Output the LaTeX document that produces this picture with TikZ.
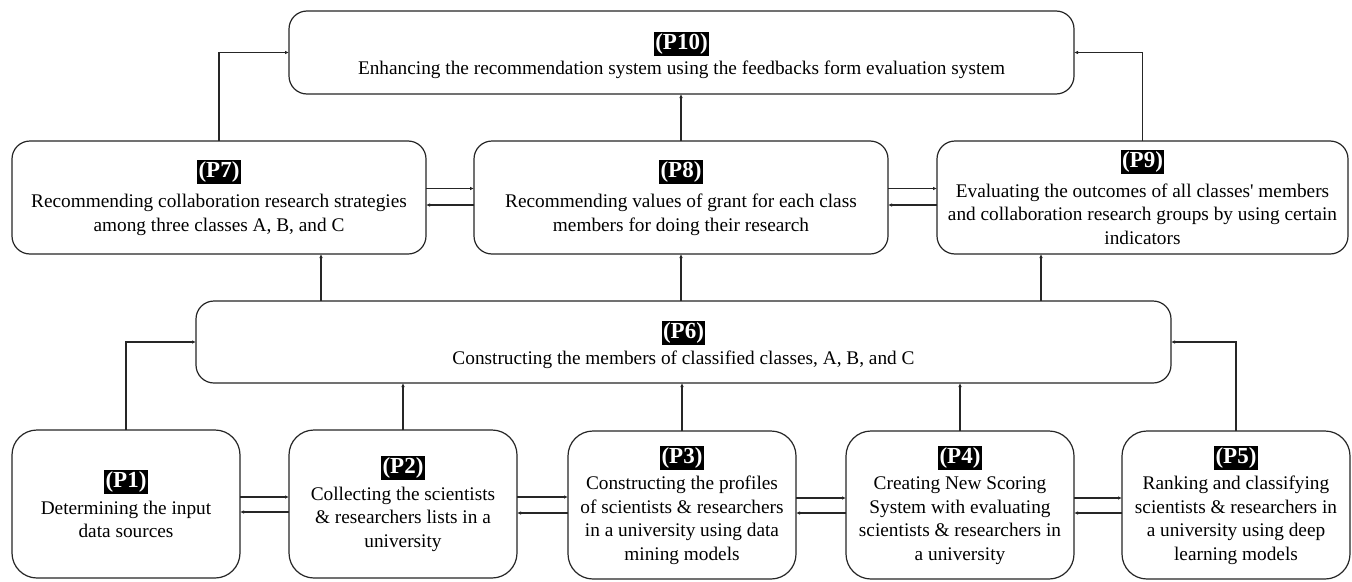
\documentclass[tikz,border=0pt]{standalone}
\usepackage{fontspec}
\setmainfont{Liberation Serif}
\usetikzlibrary{arrows.meta}
\newcommand{\plab}[1]{{\fontsize{23}{24}\selectfont\bfseries\setlength{\fboxsep}{1.5pt}\colorbox{black}{\textcolor{white}{(#1)}}}}
\tikzset{
  box/.style={draw=black!85, line width=1.2pt, rounded corners=18pt, align=center, inner sep=0pt, outer sep=0pt,
    font=\fontsize{19.3}{23.5}\selectfont},
  lowbox/.style={box, rounded corners=25pt, minimum width=228pt, minimum height=148pt},
  midbox/.style={box, minimum height=113pt},
  arr/.style={draw=black!85, line width=1.2pt, -{Latex[length=4pt,width=3.5pt]}},
}
\begin{document}
\begin{tikzpicture}[x=1pt,y=-1pt]
\useasboundingbox[fill=white] (0,0) rectangle (1352,581);
% top
\node[box, minimum width=785pt, minimum height=83pt] (p10) at (681.5,52.5)
  {\rule{0pt}{23pt}\plab{P10}\\[2pt]Enhancing the recommendation system using the feedbacks form evaluation system};
% middle row
\node[midbox, minimum width=414pt] (p7) at (219,197.5)
  {\plab{P7}\\[7pt]Recommending collaboration research strategies\\among three classes A, B, and C};
\node[midbox, minimum width=414pt] (p8) at (681,197.5)
  {\plab{P8}\\[7pt]Recommending values of grant for each class\\members for doing their research};
\node[midbox, minimum width=411pt] (p9) at (1142.5,197.5)
  {\plab{P9}\\[6pt]Evaluating the outcomes of all classes\textquotesingle{} members\\and collaboration research groups by using certain\\indicators};
% P6
\node[box, minimum width=975pt, minimum height=82pt] (p6) at (683.5,342)
  {\rule{0pt}{23pt}\plab{P6}\\[2pt]Constructing the members of classified classes, A, B, and C};
% bottom row
\node[lowbox] (p1) at (126,504)
  {\plab{P1}\\[3pt]Determining the input\\data sources};
\node[lowbox] (p2) at (403,504)
  {\plab{P2}\\[3pt]Collecting the scientists\\\& researchers lists in a\\university};
\node[lowbox] (p3) at (682,505)
  {\plab{P3}\\[3pt]Constructing the profiles\\of scientists \& researchers\\in a university using data\\mining models};
\node[lowbox] (p4) at (960,505)
  {\plab{P4}\\[3pt]Creating New Scoring\\System with evaluating\\scientists \& researchers in\\a university};
\node[lowbox] (p5) at (1236,505)
  {\plab{P5}\\[3pt]Ranking and classifying\\scientists \& researchers in\\a university using deep\\learning models};
% helper coordinates
\coordinate (c7) at (321,0);
\coordinate (c9) at (1041,0);
% bottom to P6
\draw[arr] (p1.north) |- (p6.west);
\draw[arr] (p2.north) -- (p2.north |- p6.south);
\draw[arr] (p3.north) -- (p3.north |- p6.south);
\draw[arr] (p4.north) -- (p4.north |- p6.south);
\draw[arr] (p5.north) |- (p6.east);
% P6 to middle
\draw[arr] (p6.north -| c7) -- (p7.south -| c7);
\draw[arr] (p6.north -| p8.south) -- (p8.south);
\draw[arr] (p6.north -| c9) -- (p9.south -| c9);
% middle to P10
\draw[arr] (p7.north) |- (p10.west);
\draw[arr] (p8.north) -- (p8.north |- p10.south);
\draw[arr] (p9.north) |- (p10.east);
% horizontal double arrows, middle row
\draw[arr] ([yshift=9pt]p7.east) -- ([yshift=9pt]p7.east -| p8.west);
\draw[arr] ([yshift=-7.5pt]p8.west) -- ([yshift=-7.5pt]p8.west -| p7.east);
\draw[arr] ([yshift=9pt]p8.east) -- ([yshift=9pt]p8.east -| p9.west);
\draw[arr] ([yshift=-7.5pt]p9.west) -- ([yshift=-7.5pt]p9.west -| p8.east);
% horizontal double arrows, bottom row
\foreach \a/\b in {p1/p2,p2/p3,p3/p4,p4/p5}{
  \draw[arr] ([yshift=7pt]\a.east) -- ([yshift=7pt]\a.east -| \b.west);
  \draw[arr] ([yshift=-8pt]\b.west) -- ([yshift=-8pt]\b.west -| \a.east);
}
\end{tikzpicture}
\end{document}
